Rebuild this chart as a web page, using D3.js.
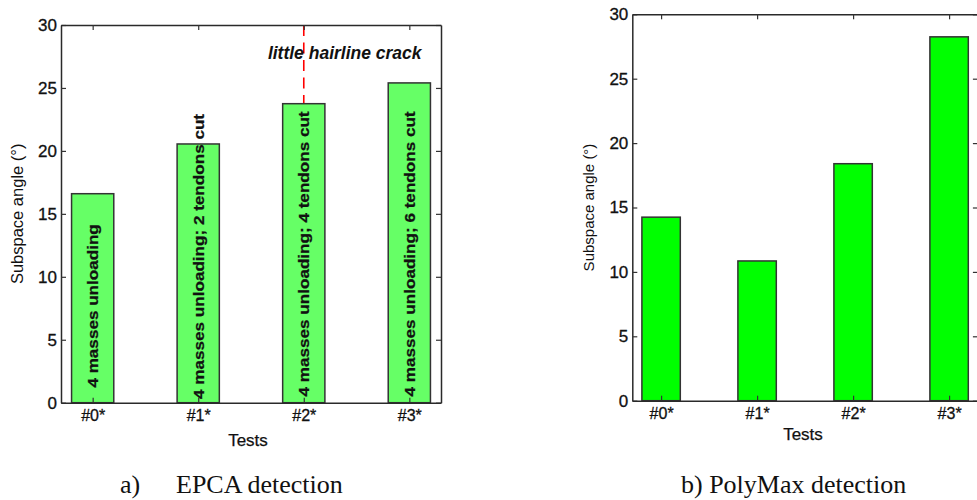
<!DOCTYPE html>
<html><head><meta charset="utf-8">
<script src="https://cdn.jsdelivr.net/npm/d3@7"></script>
<style>
html,body{margin:0;padding:0;background:#fff;}
svg{display:block;}
text{font-family:"Liberation Sans",Arial,sans-serif;fill:#111;}
</style></head>
<body>
<svg id="chart" width="977" height="500"></svg>
<script>
// ---------- data ----------
const categories = ["#0*", "#1*", "#2*", "#3*"];
const categoryPositions = [1, 2, 3, 4];
const epcaValues = [16.6, 20.55, 23.75, 25.4];
const polymaxValues = [14.25, 10.85, 18.4, 28.25];
const yTicks = [0, 5, 10, 15, 20, 25, 30];
const epcaBarLabels = [
  "4 masses unloading",
  "4 masses unloading; 2 tendons cut",
  "4 masses unloading; 4 tendons cut",
  "4 masses unloading; 6 tendons cut"
];
const epcaBarLabelStart = [1.2, 0.3, 0.5, 0.5];
const crackPosition = 3;
const crackText = "little hairline crack";
const crackTextAnchor = [2.66, 27.3];
const yLabel = "Subspace angle (°)";
const xLabel = "Tests";
const captionA = ["a)", "EPCA detection"];
const captionB = "b) PolyMax detection";

// ---------- drawing ----------
const svg = d3.select("#chart");

function panel(cfg) {
  const x = d3.scaleLinear().domain([0.7, 4.3]).range([cfg.x0, cfg.x1]);
  const y = d3.scaleLinear().domain([0, 30]).range([cfg.y1, cfg.y0]);
  const g = svg.append("g");

  if (cfg.crack) {
    g.append("line")
      .attr("x1", x(crackPosition)).attr("x2", x(crackPosition))
      .attr("y1", y(30)).attr("y2", y(0))
      .attr("stroke", "#ff0000").attr("stroke-width", 1.6)
      .attr("stroke-dasharray", "11,6.5");
  }

  const bw = x(1.4) - x(1);
  g.selectAll("rect.bar").data(cfg.values).join("rect")
    .attr("class", "bar")
    .attr("x", (d, i) => x(categoryPositions[i]) - bw / 2)
    .attr("width", bw)
    .attr("y", d => y(d))
    .attr("height", d => y(0) - y(d))
    .attr("fill", cfg.fill)
    .attr("stroke", "#333").attr("stroke-width", 1.5);

  if (cfg.barLabels) {
    g.selectAll("text.blabel").data(cfg.barLabels).join("text")
      .attr("class", "blabel")
      .attr("transform", (d, i) => `translate(${x(categoryPositions[i])},${y(epcaBarLabelStart[i])}) rotate(-90) scale(1.14,1)`)
      .attr("dy", "0.36em")
      .attr("text-anchor", "start")
      .style("font-size", "15px").style("font-weight", "bold")
      .attr("stroke", "#111").attr("stroke-width", 0.25)
      .text(d => d);
  }

  const axL = g.append("g").attr("transform", `translate(${cfg.x0},0)`)
    .call(d3.axisLeft(y).tickValues(yTicks).tickSizeInner(-5).tickSizeOuter(0).tickPadding(4));
  const axR = g.append("g").attr("transform", `translate(${cfg.x1},0)`)
    .call(d3.axisRight(y).tickValues(yTicks).tickSizeInner(-5).tickSizeOuter(0).tickFormat(""));
  const axB = g.append("g").attr("transform", `translate(0,${cfg.y1})`)
    .call(d3.axisBottom(x).tickValues(categoryPositions).tickFormat((d, i) => categories[i]).tickSizeInner(-5).tickSizeOuter(0).tickPadding(7));
  const axT = g.append("g").attr("transform", `translate(0,${cfg.y0})`)
    .call(d3.axisTop(x).tickValues(categoryPositions).tickSizeInner(-5).tickSizeOuter(0).tickFormat(""));
  [axL, axR, axB, axT].forEach(a => {
    a.select(".domain").attr("stroke", "#2a2a2a").attr("stroke-width", 1.5);
    a.selectAll(".tick line").attr("stroke", "#333").attr("stroke-width", 1.2);
    a.selectAll(".tick text").attr("fill", "#111")
      .attr("stroke", "#111").attr("stroke-width", 0.3)
      .style("font-family", '"Liberation Sans",Arial,sans-serif');
  });
  axL.selectAll(".tick text").style("font-size", cfg.yTickSize + "px");
  axB.selectAll(".tick text").style("font-size", "16px");

  g.append("text")
    .attr("transform", `translate(${cfg.yLabelX},${(cfg.y0 + cfg.y1) / 2}) rotate(-90)`)
    .attr("text-anchor", "middle").attr("dy", "0.35em")
    .style("font-size", cfg.yLabelSize + "px")
    .text(yLabel);
  g.append("text")
    .attr("x", cfg.xLabelX).attr("y", cfg.xLabelY)
    .attr("text-anchor", "middle").attr("dy", "0.35em")
    .attr("stroke", "#111").attr("stroke-width", 0.25)
    .style("font-size", "17px")
    .text(xLabel);

  if (cfg.crack) {
    g.append("text")
      .attr("x", x(crackTextAnchor[0])).attr("y", y(crackTextAnchor[1]))
      .style("font-size", "17.5px").style("font-weight", "bold").style("font-style", "italic")
      .attr("fill", "#151520")
      .text(crackText);
  }
}

panel({x0: 61, x1: 441, y0: 25, y1: 402.7, values: epcaValues, fill: "#66ff66",
  barLabels: epcaBarLabels, crack: true, yTickSize: 17, yLabelX: 17.5, yLabelSize: 16.5,
  xLabelX: 248, xLabelY: 440});
panel({x0: 632.3, x1: 977.9, y0: 14.3, y1: 400.7, values: polymaxValues, fill: "#00ff00",
  barLabels: null, crack: false, yTickSize: 17, yLabelX: 589, yLabelSize: 15,
  xLabelX: 803, xLabelY: 434});

const serif = '"Liberation Serif","Times New Roman",serif';
svg.append("text").attr("x", 120).attr("y", 492.5)
  .style("font-family", serif).style("font-size", "26px").text(captionA[0]);
svg.append("text").attr("x", 176).attr("y", 492.5)
  .style("font-family", serif).style("font-size", "26px").text(captionA[1]);
svg.append("text").attr("x", 681).attr("y", 493)
  .style("font-family", serif).style("font-size", "26px").text(captionB);
</script>
</body></html>
